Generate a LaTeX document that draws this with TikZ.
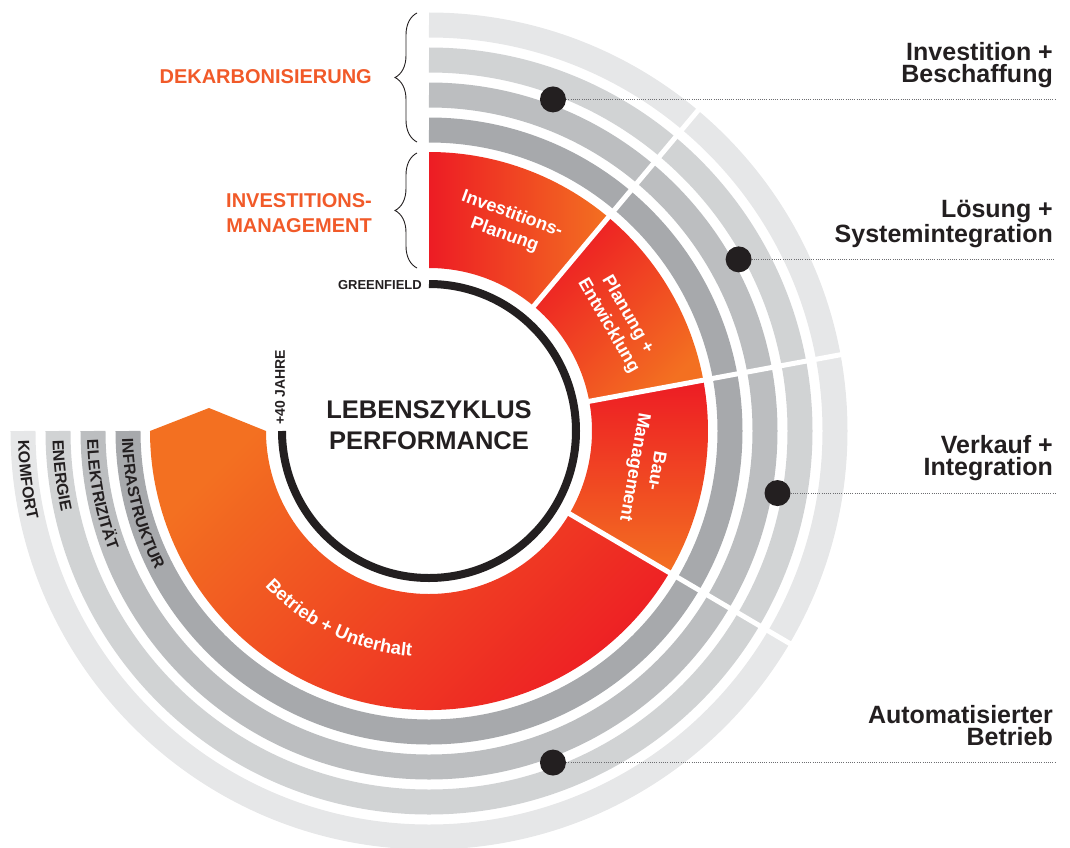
\documentclass[tikz,border=0pt]{standalone}
\usepackage{fontspec}
\setsansfont{Liberation Sans}
\usetikzlibrary{decorations.pathreplacing,decorations.text,positioning}

\definecolor{bandA}{HTML}{E6E7E8}
\definecolor{bandB}{HTML}{D1D3D4}
\definecolor{bandC}{HTML}{BCBEC0}
\definecolor{bandD}{HTML}{A7A9AC}
\definecolor{lcRed}{HTML}{ED1C24}
\definecolor{lcOrange}{HTML}{F37021}
\definecolor{lcText}{HTML}{F15A29}
\definecolor{lcDark}{HTML}{231F20}
\definecolor{lcLine}{HTML}{6D6E71}
\newcommand\bandfont{\sffamily\bfseries\fontsize{16}{16}\selectfont}
\newcommand\phasefont{\sffamily\bfseries\fontsize{18.5}{18.5}\selectfont}

\begin{document}
\begin{tikzpicture}[x=1pt,y=1pt,
  phase/.style={white,font=\sffamily\bfseries\fontsize{18}{22}\selectfont,align=center},
  stage/.style={lcDark,font=\sffamily\bfseries\fontsize{25}{22}\selectfont,align=right,anchor=base east,inner sep=0},
  topic/.style={lcText,font=\sffamily\bfseries\fontsize{20}{25}\selectfont,align=right,anchor=base east,inner sep=0},
  dot/.style={circle,fill=lcDark,minimum size=26,inner sep=0},
  leader/.style={lcLine,line width=1,dash pattern=on 1pt off 1.2pt},
  bracket/.style={lcDark,line width=0.9,decorate,decoration={brace,amplitude=22}},
  band/.style={line width=25},
  bandlabel/.style={decorate,decoration={text along path,text color=lcDark,text align=left,text={|\bandfont|#1}}}]
  \useasboundingbox (-429,-416) rectangle (641,431);

  \foreach \r/\c in {406/bandA,371/bandB,336/bandC,301/bandD}
    \draw[band,\c] (90:\r) arc[start angle=90,end angle=-180,radius=\r];

  \shade[top color=lcRed,bottom color=lcOrange,shading angle=90] (90:279) arc[start angle=90,end angle=50,radius=279] -- (50:163) arc[start angle=50,end angle=90,radius=163] -- cycle;
  \shade[top color=lcRed,bottom color=lcOrange,shading angle=45] (50:279) arc[start angle=50,end angle=10.5,radius=279] -- (10.5:163) arc[start angle=10.5,end angle=50,radius=163] -- cycle;
  \shade[top color=lcRed,bottom color=lcOrange] (10.5:279) arc[start angle=10.5,end angle=-30.5,radius=279] -- (-30.5:163) arc[start angle=-30.5,end angle=10.5,radius=163] -- cycle;
  \shade[top color=lcOrange,bottom color=lcRed,shading angle=45] (-30.5:279) arc[start angle=-30.5,end angle=-180,radius=279] -- (-220,23) -- (180:163) arc[start angle=-180,end angle=-30.5,radius=163] -- cycle;

  \foreach \a in {50,10.5,-30.5}
    \draw[white,line width=5] (\a:155) -- (\a:425);

  \draw[lcDark,line width=8] (90:147) arc[start angle=90,end angle=-180,radius=147];

  \node[phase,rotate=-20] (invplan) at (69:221) {Investitions-\\Planung};
  \node[phase,rotate=-60] (planent) at (30.4:219) {Planung +\\Entwicklung};
  \node[phase,rotate=-100] (bauman) at (-10:219) {Bau-\\Management};
  \path[decorate,decoration={text along path,text color=white,text align=center,text={|\phasefont|Betrieb + Unterhalt}}]
    (-145:226) arc[start angle=-145,end angle=-86,radius=226];

  \path[bandlabel=KOMFORT] (181.3:411) arc[start angle=181.3,end angle=240,radius=411];
  \path[bandlabel=ENERGIE] (181.4:376.5) arc[start angle=181.4,end angle=240,radius=376.5];
  \path[bandlabel=ELEKTRIZITÄT] (181.5:342) arc[start angle=181.5,end angle=240,radius=342];
  \path[bandlabel=INFRASTRUKTUR] (181.4:307) arc[start angle=181.4,end angle=240,radius=307];

  \node[align=center,lcDark,font=\sffamily\bfseries\fontsize{25.5}{31}\selectfont] (title) at (0,6) {LEBENSZYKLUS\\PERFORMANCE};
  \node[anchor=base east,inner sep=0,lcDark,font=\sffamily\bfseries\fontsize{13}{13}\selectfont] (greenfield) at (-7,142) {GREENFIELD};
  \node[rotate=90,anchor=base west,inner sep=0,lcDark,font=\sffamily\bfseries\fontsize{14}{14}\selectfont] (jahre) at (-144,6) {+40 JAHRE};

  \draw[bracket] (-12,289) -- (-12,418);
  \draw[bracket] (-12,163) -- (-12,278);
  \node[topic] (dekarb) at (-57,348) {DEKARBONISIERUNG};
  \node[topic] (invman) at (-57,199) {INVESTITIONS-\\MANAGEMENT};

  \node[dot] (dotA) at (69.5:354) {};
  \node[dot] (dotB) at (29:354) {};
  \node[dot] (dotC) at (-10.1:354) {};
  \node[dot] (dotD) at (-69.5:354) {};
  \coordinate (rim) at (626,0);
  \foreach \d in {dotA,dotB,dotC,dotD}
    \draw[leader] (\d) -- (\d -| rim);

  \node[stage] (beschaffung) at (624,348.6) {Investition +\\Beschaffung};
  \node[stage] (integration) at (624,188.6) {Lösung +\\Systemintegration};
  \node[stage] (verkauf) at (624,-44.5) {Verkauf +\\Integration};
  \node[stage] (betrieb) at (624,-314.6) {Automatisierter\\Betrieb};
\end{tikzpicture}
\end{document}
